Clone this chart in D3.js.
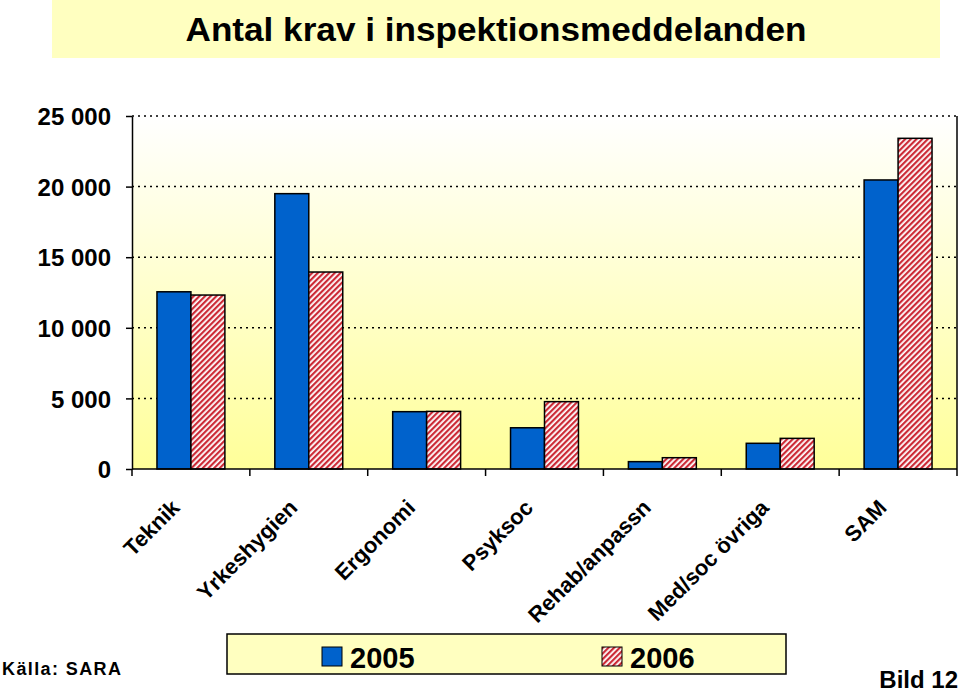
<!DOCTYPE html>
<html>
<head>
<meta charset="utf-8">
<script src="https://cdn.jsdelivr.net/npm/d3@7"></script>
<style>
  body { margin: 0; background: #fff; }
  svg { display: block; font-family: "Liberation Sans", Arial, sans-serif; }
</style>
</head>
<body>
<svg width="960" height="692"></svg>
<script>
let categories = ["Teknik", "Yrkeshygien", "Ergonomi", "Psyksoc", "Rehab/anpassn", "Med/soc övriga", "SAM"];
let series = ["2005", "2006"];
let values2005 = [12550, 19500, 4060, 2920, 520, 1820, 20470];
let values2006 = [12320, 13950, 4080, 4770, 800, 2170, 23420];
let yTicks = [0, 5000, 10000, 15000, 20000, 25000];

let plotLeft = 132, plotRight = 957, plotTop = 116, plotBottom = 469;

let svg = d3.select("svg");
let defs = svg.append("defs");

let grad = defs.append("linearGradient")
  .attr("id", "bg").attr("x1", 0).attr("y1", 0).attr("x2", 0).attr("y2", 1);
grad.append("stop").attr("offset", "0%").attr("stop-color", "#ffffff");
grad.append("stop").attr("offset", "100%").attr("stop-color", "#ffff99");

let hatch = defs.append("pattern")
  .attr("id", "hatch").attr("patternUnits", "userSpaceOnUse")
  .attr("width", 4).attr("height", 4)
  .attr("patternTransform", "rotate(45)");
hatch.append("rect").attr("width", 4).attr("height", 4).attr("fill", "#ffffff");
hatch.append("rect").attr("width", 2.2).attr("height", 4).attr("fill", "#cc2a36");

// title box
svg.append("rect")
  .attr("x", 52).attr("y", 0).attr("width", 888).attr("height", 58)
  .attr("fill", "#ffffc0");
svg.append("text")
  .attr("x", 496).attr("y", 41)
  .attr("text-anchor", "middle")
  .attr("textLength", 621)
  .attr("lengthAdjust", "spacingAndGlyphs")
  .style("font-size", "33px").style("font-weight", "bold")
  .text("Antal krav i inspektionsmeddelanden");

let x0 = d3.scaleBand().domain(categories).range([plotLeft, plotRight]);
let x1 = d3.scaleBand().domain(series).range([0, x0.bandwidth()]).paddingOuter(0.735);
let y = d3.scaleLinear().domain([0, 25000]).range([plotBottom, plotTop]);

// plot background
svg.append("rect")
  .attr("x", plotLeft).attr("y", plotTop)
  .attr("width", plotRight - plotLeft).attr("height", plotBottom - plotTop)
  .attr("fill", "url(#bg)");

// gridlines
svg.append("g")
  .selectAll("line")
  .data(yTicks.filter(d => d > 0))
  .enter()
  .append("line")
    .attr("x1", plotLeft).attr("x2", plotRight)
    .attr("y1", d => y(d)).attr("y2", d => y(d))
    .attr("stroke", "#000")
    .attr("stroke-width", 1.5)
    .attr("stroke-dasharray", "2,4");

// right border
svg.append("line")
  .attr("x1", plotRight).attr("x2", plotRight)
  .attr("y1", plotTop).attr("y2", plotBottom)
  .attr("stroke", "#000").attr("stroke-width", 1.5);

// bars
let groups = svg.append("g")
  .selectAll("g")
  .data(categories)
  .enter()
  .append("g")
    .attr("transform", d => "translate(" + x0(d) + ",0)");

groups.selectAll("rect")
  .data((d, i) => [
    { key: "2005", value: values2005[i] },
    { key: "2006", value: values2006[i] }
  ])
  .enter()
  .append("rect")
    .attr("x", d => x1(d.key))
    .attr("y", d => y(d.value))
    .attr("width", x1.bandwidth())
    .attr("height", d => y(0) - y(d.value))
    .attr("fill", d => d.key == "2005" ? "#0062cc" : "url(#hatch)")
    .attr("stroke", "#000")
    .attr("stroke-width", 1.5);

// y axis
let yAxis = d3.axisLeft(y)
  .tickValues(yTicks)
  .tickSize(6)
  .tickSizeOuter(0)
  .tickFormat(d => d3.format(",")(d).replace(/,/g, " "));

let gy = svg.append("g")
  .attr("transform", "translate(" + plotLeft + ",0)")
  .call(yAxis);
gy.select(".domain").attr("stroke-width", 1.5);
gy.selectAll(".tick line").attr("stroke-width", 1.5);
gy.selectAll(".tick text")
  .attr("x", -21)
  .attr("dy", "0.36em")
  .style("font-size", "24px")
  .style("font-weight", "bold")
  .style("font-family", "'Liberation Sans', Arial, sans-serif")
  .attr("fill", "#000");

// x axis baseline with ticks at category edges
svg.append("line")
  .attr("x1", plotLeft).attr("x2", plotRight)
  .attr("y1", plotBottom).attr("y2", plotBottom)
  .attr("stroke", "#000").attr("stroke-width", 1.5);

let edges = categories.map(c => x0(c)).concat([plotRight]);
svg.append("g")
  .selectAll("line")
  .data(edges)
  .enter()
  .append("line")
    .attr("x1", d => d).attr("x2", d => d)
    .attr("y1", plotBottom).attr("y2", plotBottom + 7)
    .attr("stroke", "#000").attr("stroke-width", 1.5);

// category labels
svg.append("g")
  .selectAll("text")
  .data(categories)
  .enter()
  .append("text")
    .attr("transform", d => "translate(" + (x0(d) + x0.bandwidth() / 2 - 10) + ",509) rotate(-45)")
    .attr("text-anchor", "end")
    .style("font-size", "22px")
    .style("font-weight", "bold")
    .text(d => d);

// legend
svg.append("rect")
  .attr("x", 227).attr("y", 634).attr("width", 559).attr("height", 40)
  .attr("fill", "#ffffc0").attr("stroke", "#000").attr("stroke-width", 1.5);

let legendX = [322, 602];
let legend = svg.append("g")
  .selectAll("g")
  .data(series)
  .enter()
  .append("g")
    .attr("transform", (d, i) => "translate(" + legendX[i] + ",647)");
legend.append("rect")
  .attr("width", 20).attr("height", 19)
  .attr("fill", d => d == "2005" ? "#0062cc" : "url(#hatch)")
  .attr("stroke", "#000").attr("stroke-width", 1);
legend.append("text")
  .attr("x", 28).attr("y", 21)
  .style("font-size", "29px")
  .style("font-weight", "bold")
  .text(d => d);

// footer texts
svg.append("text")
  .attr("x", 2).attr("y", 675)
  .style("font-size", "18px").style("font-weight", "bold")
  .style("letter-spacing", "1.4px")
  .text("Källa: SARA");

svg.append("text")
  .attr("x", 958).attr("y", 688)
  .attr("text-anchor", "end")
  .style("font-size", "24px").style("font-weight", "bold")
  .text("Bild 12");
</script>
</body>
</html>
